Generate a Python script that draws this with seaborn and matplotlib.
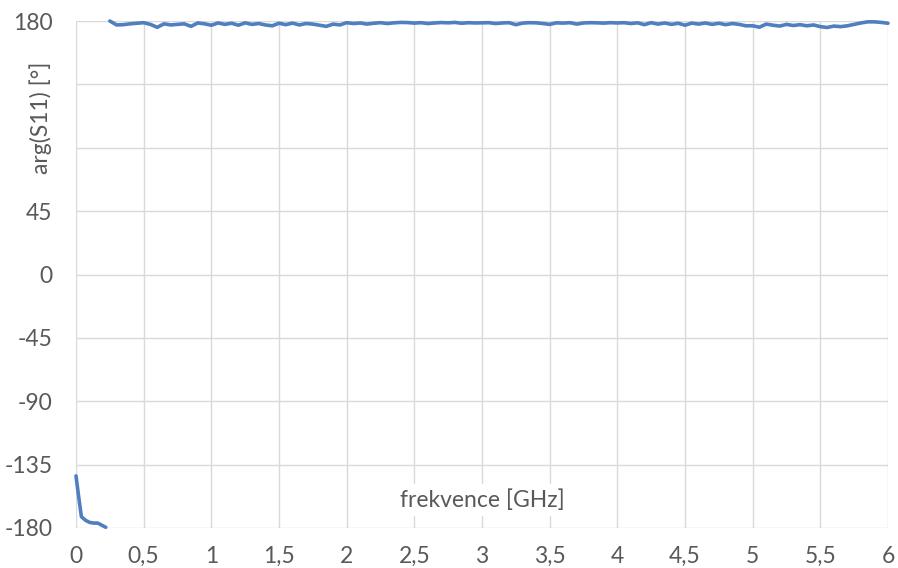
import numpy as np
import pandas as pd
import matplotlib
matplotlib.use("Agg")
import matplotlib.pyplot as plt
import seaborn as sns

# low-frequency branch (phase wraps to -180 before jumping to +180)
freq_low = [0.0, 0.02, 0.04, 0.07, 0.10, 0.13, 0.16, 0.19, 0.22]
phase_low = [-143, -158, -172, -174.5, -176, -176.5, -176.5, -178, -179.5]

# upper branch, sweep 0.25 .. 6.0 GHz in 0.05 GHz steps
freq_high = np.round(np.arange(0.25, 6.0001, 0.05), 3)
phase_high = [
    180.0, 177.2, 177.4, 178.0, 178.4, 178.8, 177.6, 175.5, 178.0, 177.2,
    177.6, 178.0, 176.2, 178.6, 178.0,
    177.0, 178.6, 177.6, 178.4, 177.0, 178.7, 177.6, 178.2, 177.2, 176.6,
    178.4, 177.4, 178.5, 177.2, 178.2, 177.8, 177.0, 176.2, 177.8, 177.2,
    178.8, 178.2, 178.6, 177.8, 178.4, 178.8, 178.2, 178.7, 179.0, 178.9,
    178.5, 178.8, 178.2, 178.6, 178.9, 178.7, 179.0, 178.4, 178.8, 178.6,
    178.7, 178.8, 178.2, 178.6, 178.8, 177.4, 178.5, 178.8, 178.7, 178.2,
    177.6, 178.7, 178.5, 178.8, 177.8, 178.6, 178.8, 178.7, 178.5, 178.8,
    178.6, 178.8, 178.2, 178.7, 177.4, 178.8, 177.8, 178.6, 177.6, 178.4,
    177.0, 178.5, 177.8, 178.6, 177.6, 178.4, 177.4, 178.2, 177.6, 176.6,
    176.6, 175.6, 177.8, 177.0, 176.4, 177.6, 176.8, 177.4, 176.6, 177.2,
    176.0, 175.4, 176.4, 176.0, 176.6, 177.6, 178.6, 179.4, 179.4, 179.0,
    178.4,
]

x_ticks = [0, 0.5, 1, 1.5, 2, 2.5, 3, 3.5, 4, 4.5, 5, 5.5, 6]
x_labels = ["0", "0,5", "1", "1,5", "2", "2,5", "3", "3,5", "4", "4,5", "5", "5,5", "6"]
y_ticks = [-180, -135, -90, -45, 0, 45, 90, 135, 180]
y_labels = ["-180", "-135", "-90", "-45", "0", "45", "", "", "180"]

sns.set_theme(style="white")
plt.rcParams["font.family"] = ["Lato", "DejaVu Sans"]

line_color = "#4f7fc0"
grid_color = "#d9d9d9"
text_color = "#595959"
fs = 16.5

fig = plt.figure(figsize=(8.98, 5.68), dpi=100)
ax = fig.add_axes([76 / 898, 1 - 528 / 568, 812 / 898, 507 / 568])

low = pd.DataFrame({"f": freq_low, "phase": phase_low})
high = pd.DataFrame({"f": freq_high, "phase": phase_high})
sns.lineplot(data=low, x="f", y="phase", ax=ax, color=line_color, lw=2.6,
             sort=False, clip_on=False, zorder=3)
sns.lineplot(data=high, x="f", y="phase", ax=ax, color=line_color, lw=2.6,
             sort=False, clip_on=False, zorder=3)

ax.set_xlim(0, 6)
ax.set_ylim(-180, 180)
ax.set_xticks(x_ticks)
ax.set_xticklabels(x_labels)
ax.set_yticks(y_ticks)
ax.set_yticklabels(y_labels)
ax.grid(True, color=grid_color, lw=1.0)
ax.set_axisbelow(True)
for s in ax.spines.values():
    s.set_visible(False)
ax.tick_params(axis="both", length=0, labelsize=fs, labelcolor=text_color)
ax.tick_params(axis="x", pad=13)
ax.tick_params(axis="y", pad=17)
ax.set_xlabel("")
ax.set_ylabel("")

ax.text(3.0, -160, "frekvence [GHz]", ha="center", va="center", fontsize=fs,
        color=text_color, zorder=4,
        bbox=dict(facecolor="white", edgecolor="none", pad=4))
ax.text(-0.043, 0.809, "arg(S11) [°]", transform=ax.transAxes, rotation=90,
        ha="center", va="center", fontsize=fs, color=text_color)

fig.savefig("out.png", dpi=100, facecolor="white")
